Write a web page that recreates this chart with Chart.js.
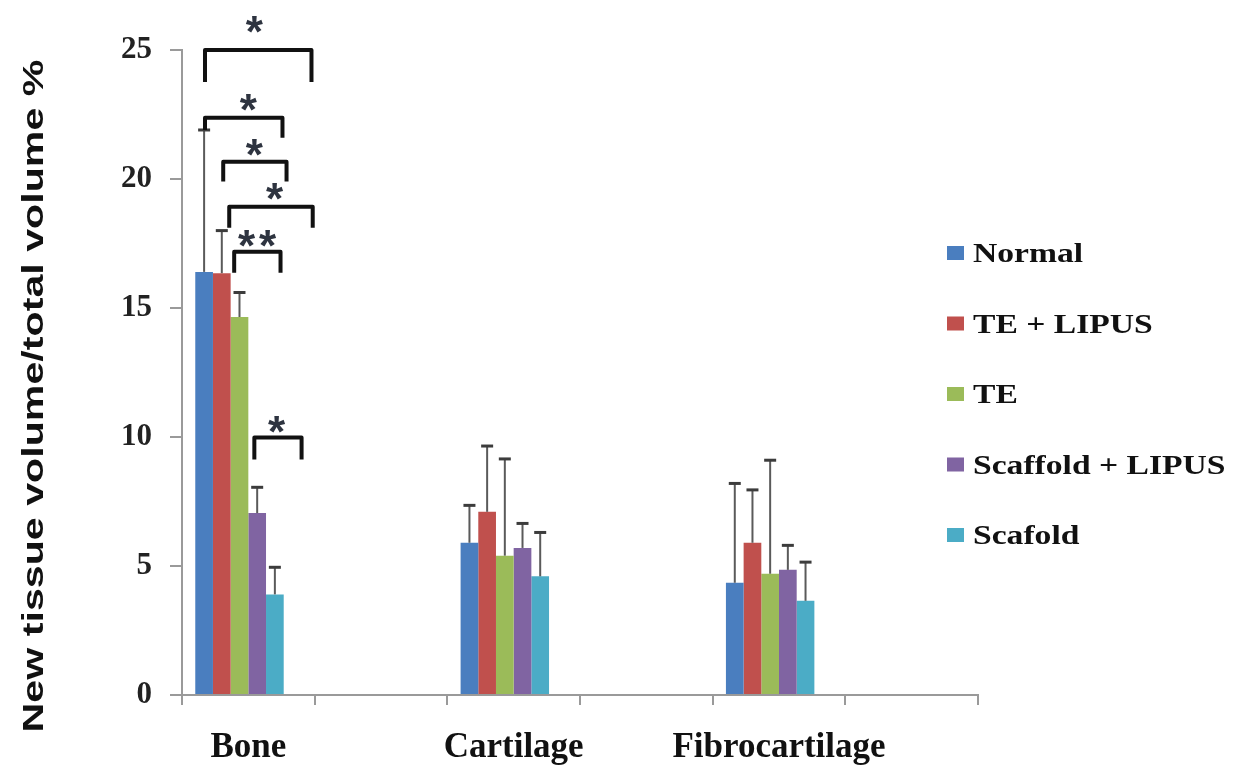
<!DOCTYPE html>
<html>
<head>
<meta charset="utf-8">
<script src="https://cdn.jsdelivr.net/npm/chart.js@4.4.0/dist/chart.umd.min.js"></script>
<style>
  html, body { margin: 0; padding: 0; background: #fff; }
  #wrap { width: 1248px; height: 770px; }
</style>
</head>
<body>
<div id="wrap"><canvas id="tissueChart" width="1248" height="770"></canvas></div>
<script>
// Categories (blank slots keep the empty space between groups)
const categories = ["Bone", "", "Cartilage", "", "Fibrocartilage", ""];
const seriesNames = ["Normal", "TE + LIPUS", "TE", "Scaffold + LIPUS", "Scafold"];
const seriesColors = ["#4a7ebf", "#c0504d", "#9bbb59", "#8064a2", "#4bacc6"];

// Mean values
const normal        = [16.4, null, 5.9, null, 4.35, null];
const teLipus       = [16.35, null, 7.1, null, 5.9, null];
const te            = [14.65, null, 5.4, null, 4.7, null];
const scaffoldLipus = [7.05, null, 5.7, null, 4.85, null];
const scafold       = [3.9, null, 4.6, null, 3.65, null];

// Upper error bar lengths
const normalErr        = [5.5, null, 1.45, null, 3.85, null];
const teLipusErr       = [1.65, null, 2.55, null, 2.05, null];
const teErr            = [0.95, null, 3.75, null, 4.4, null];
const scaffoldLipusErr = [1.0, null, 0.95, null, 0.95, null];
const scafoldErr       = [1.05, null, 1.7, null, 1.5, null];

const yTickValues = [0, 5, 10, 15, 20, 25];

// Significance brackets over the Bone group (x in bar slots from the first bar, y in data units)
const brackets = [
  { from: 0.05, to: 6.07, top: 25.0,  leftEnd: 23.76, rightEnd: 23.76, label: "*",  labelX: 2.84, labelY: 26.1 },
  { from: 0.05, to: 4.43, top: 22.37, leftEnd: 21.9,  rightEnd: 21.6,  label: "*",  labelX: 2.5,  labelY: 23.07 },
  { from: 1.08, to: 4.66, top: 20.67, leftEnd: 19.9,  rightEnd: 19.9,  label: "*",  labelX: 2.84, labelY: 21.32 },
  { from: 1.42, to: 6.14, top: 18.92, leftEnd: 18.11, rightEnd: 18.11, label: "*",  labelX: 3.98, labelY: 19.62 },
  { from: 1.7,  to: 4.32, top: 17.18, leftEnd: 16.37, rightEnd: 16.37, label: "**", labelX: 3.0,  labelY: 17.8 },
  { from: 2.84, to: 5.51, top: 9.98,  leftEnd: 9.13,  rightEnd: 9.13,  label: "*",  labelX: 4.1,  labelY: 10.6 }
];

const allValues = [normal, teLipus, te, scaffoldLipus, scafold];
const allErrors = [normalErr, teLipusErr, teErr, scaffoldLipusErr, scafoldErr];

function line(ctx, x1, y1, x2, y2) {
  ctx.beginPath();
  ctx.moveTo(x1, y1);
  ctx.lineTo(x2, y2);
  ctx.stroke();
}

// Error bars, brackets, legend and axis title
const overlay = {
  id: "overlay",
  afterDatasetsDraw(chart) {
    const ctx = chart.ctx;
    const y = chart.scales.y;
    ctx.save();

    // error bars (upper only)
    allValues.forEach((vals, i) => {
      chart.getDatasetMeta(i).data.forEach((bar, j) => {
        const v = vals[j];
        if (v == null) return;
        const top = y.getPixelForValue(v + allErrors[i][j]);
        ctx.strokeStyle = "#5a5a5a";
        ctx.lineWidth = 2;
        line(ctx, bar.x, bar.y, bar.x, top);
        ctx.strokeStyle = "#3c3c3c";
        ctx.lineWidth = 3;
        line(ctx, bar.x - 6, top, bar.x + 6, top);
      });
    });

    // brackets
    const first = chart.getDatasetMeta(0).data[0];
    const slot = first.width;
    const px = s => first.x + s * slot;
    ctx.strokeStyle = "#111";
    ctx.lineWidth = 4;
    ctx.lineJoin = "round";
    brackets.forEach(b => {
      ctx.beginPath();
      ctx.moveTo(px(b.from), y.getPixelForValue(b.leftEnd));
      ctx.lineTo(px(b.from), y.getPixelForValue(b.top));
      ctx.lineTo(px(b.to), y.getPixelForValue(b.top));
      ctx.lineTo(px(b.to), y.getPixelForValue(b.rightEnd));
      ctx.stroke();

      const size = 44;
      ctx.font = "bold " + size + "px 'Liberation Sans'";
      ctx.fillStyle = "#2e3440";
      ctx.textAlign = "center";
      ctx.textBaseline = "alphabetic";
      const cx = px(b.labelX);
      const cy = y.getPixelForValue(b.labelY) + 0.58 * size;
      const n = b.label.length;
      for (let k = 0; k < n; k++) {
        ctx.fillText(b.label[k], cx + (k - (n - 1) / 2) * 21, cy);
      }
    });
    ctx.restore();
  },
  afterDraw(chart) {
    const ctx = chart.ctx;
    ctx.save();

    // legend
    seriesNames.forEach((name, i) => {
      const rowY = 253 + i * 70.5;
      ctx.fillStyle = seriesColors[i];
      ctx.fillRect(947, rowY - 7, 17, 14);
      ctx.save();
      ctx.translate(973, rowY + 9);
      ctx.scale(1.2, 1);
      ctx.font = "bold 28px 'Liberation Serif'";
      ctx.fillStyle = "#111";
      ctx.textAlign = "left";
      ctx.textBaseline = "alphabetic";
      ctx.fillText(name, 0, 0);
      ctx.restore();
    });

    // y axis title
    ctx.translate(43, 396);
    ctx.rotate(-Math.PI / 2);
    ctx.scale(1.42, 1);
    ctx.font = "bold 29px 'Liberation Sans'";
    ctx.fillStyle = "#111";
    ctx.textAlign = "center";
    ctx.textBaseline = "alphabetic";
    ctx.fillText("New tissue volume/total volume %", 0, 0);
    ctx.restore();
  }
};

const datasets = seriesNames.map((name, i) => ({
  label: name,
  data: allValues[i],
  backgroundColor: seriesColors[i],
  borderWidth: 0
}));
// empty trailing slot: the original groups sit a little left of the category centre
datasets.push({ label: "", data: categories.map(() => null), backgroundColor: "rgba(0,0,0,0)" });

new Chart(document.getElementById("tissueChart"), {
  type: "bar",
  data: { labels: categories, datasets },
  options: {
    responsive: false,
    animation: false,
    layout: { padding: { top: 50, right: 270, bottom: 0, left: 0 } },
    categoryPercentage: 0.8,
    barPercentage: 1.0,
    plugins: {
      legend: { display: false },
      tooltip: { enabled: false }
    },
    scales: {
      x: {
        grid: { drawOnChartArea: false, offset: true, tickLength: 10, color: "#9a9a9a", lineWidth: 2 },
        border: { display: true, color: "#9a9a9a", width: 2 },
        ticks: {
          color: "#111",
          padding: 22,
          maxRotation: 0,
          autoSkip: false,
          font: { family: "'Liberation Serif'", weight: "bold", size: 35 }
        },
        afterFit: s => { s.height = 75; }
      },
      y: {
        min: 0,
        max: 25,
        grid: { drawOnChartArea: false, tickLength: 12, color: "#9a9a9a", lineWidth: 2 },
        border: { display: true, color: "#9a9a9a", width: 2 },
        afterBuildTicks: s => { s.ticks = yTickValues.map(v => ({ value: v })); },
        ticks: {
          color: "#222",
          padding: 18,
          font: { family: "'Liberation Serif'", weight: "bold", size: 31 }
        },
        afterFit: s => { s.width = 182; }
      }
    }
  },
  plugins: [overlay]
});
</script>
</body>
</html>
